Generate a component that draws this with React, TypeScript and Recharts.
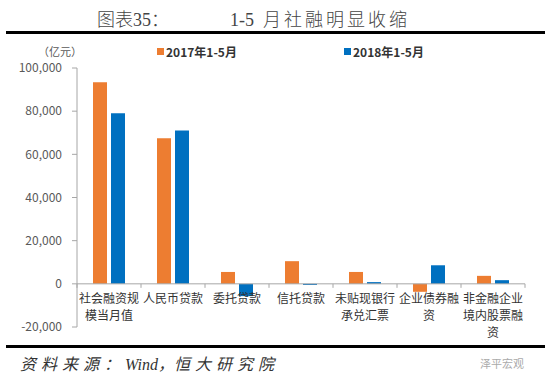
import React from 'react';
import { BarChart, Bar, XAxis, YAxis, ReferenceLine } from 'recharts';

const categories = [
    '社会融资规模当月值',
    '人民币贷款',
    '委托贷款',
    '信托贷款',
    '未贴现银行承兑汇票',
    '企业债券融资',
    '非金融企业境内股票融资',
];
const values2017 = [93400, 67400, 5500, 10500, 5500, -3700, 3700];
const values2018 = [79000, 71000, -5700, -500, 800, 8600, 1700];
const seriesNames = ['2017年1-5月', '2018年1-5月'];
const seriesColors = ['#ED7D31', '#0070C0'];
const yTicks = [-20000, 0, 20000, 40000, 60000, 80000, 100000];

const data = categories.map((name, i) => ({
    name,
    v2017: values2017[i],
    v2018: values2018[i],
}));

// plot geometry (used for the category labels, which hang under the zero line)
const W = 550;
const H = 385;
const TOP = 68;
const LEFT = 77;
const RIGHT = 25;
const X_AXIS_H = 58;
const plotH = H - TOP - X_AXIS_H;
const zeroY = TOP + (plotH * 100000) / 120000;
const halfBand = (W - LEFT - RIGHT) / categories.length / 2;

const FONT = "'Noto Sans CJK SC', 'Microsoft YaHei', sans-serif";
const SERIF = "'Liberation Serif', 'Noto Sans CJK SC', serif";

const CategoryTick = (props: any) => {
    const { x, index, payload } = props;
    const lines: string[] = String(payload.value).match(/.{1,5}/g) || [];
    return (
        <g>
            <line x1={x - halfBand} x2={x - halfBand} y1={zeroY} y2={zeroY + 4} stroke="#a6a6a6" />
            {index === categories.length - 1 && (
                <line x1={x + halfBand} x2={x + halfBand} y1={zeroY} y2={zeroY + 4} stroke="#a6a6a6" />
            )}
            <text x={x} y={zeroY} textAnchor="middle" fontSize={12} fill="#333" fontFamily={FONT}>
                {lines.map((l, i) => (
                    <tspan key={i} x={x} dy={i === 0 ? 19 : 17}>
                        {l}
                    </tspan>
                ))}
            </text>
        </g>
    );
};

export default function App() {
    return (
        <div
            style={{
                position: 'absolute',
                left: 0,
                top: 0,
                width: W,
                height: H,
                background: '#fff',
                fontFamily: FONT,
                overflow: 'hidden',
            }}
        >
            <div
                style={{
                    position: 'absolute',
                    left: 97,
                    top: 5,
                    fontSize: 18,
                    fontWeight: 300,
                    color: '#444',
                    fontFamily: SERIF,
                    whiteSpace: 'nowrap',
                }}
            >
                图表35：
            </div>
            <div
                style={{
                    position: 'absolute',
                    left: 230,
                    top: 5,
                    fontSize: 18,
                    fontWeight: 300,
                    color: '#444',
                    fontFamily: SERIF,
                    whiteSpace: 'pre',
                }}
            >
                {'1-5  '}
                <span style={{ letterSpacing: 3 }}>月社融明显收缩</span>
            </div>
            <div style={{ position: 'absolute', left: 6, top: 31, width: 539, height: 3, background: '#000' }} />

            <div style={{ position: 'absolute', left: 38, top: 43, fontSize: 11, color: '#595959' }}>（亿元）</div>

            {seriesNames.map((n, i) => (
                <div
                    key={n}
                    style={{
                        position: 'absolute',
                        left: i === 0 ? 157 : 344,
                        top: 43,
                        fontSize: 12,
                        fontWeight: 'bold',
                        color: '#333',
                        display: 'flex',
                        alignItems: 'center',
                        whiteSpace: 'nowrap',
                    }}
                >
                    <span style={{ display: 'inline-block', width: 7, height: 7, background: seriesColors[i], marginRight: 2 }} />
                    {n}
                </div>
            ))}

            <div style={{ position: 'absolute', left: 0, top: 0 }}>
                <BarChart
                    width={W}
                    height={H}
                    data={data}
                    margin={{ top: TOP, right: RIGHT, left: 0, bottom: 0 }}
                    barCategoryGap={16}
                    barGap={4}
                >
                    <XAxis
                        dataKey="name"
                        height={X_AXIS_H}
                        axisLine={false}
                        tickLine={false}
                        interval={0}
                        tick={<CategoryTick />}
                    />
                    <YAxis
                        width={LEFT}
                        domain={[-20000, 100000]}
                        ticks={yTicks}
                        tickFormatter={(v: number) => v.toLocaleString('en-US')}
                        axisLine={{ stroke: '#a6a6a6' }}
                        tickLine={{ stroke: '#a6a6a6' }}
                        tickSize={5}
                        tickMargin={10}
                        tick={{ fontSize: 12, fill: '#595959', fontFamily: FONT }}
                    />
                    <ReferenceLine y={0} stroke="#a6a6a6" />
                    <Bar dataKey="v2017" name={seriesNames[0]} fill={seriesColors[0]} isAnimationActive={false} />
                    <Bar dataKey="v2018" name={seriesNames[1]} fill={seriesColors[1]} isAnimationActive={false} />
                </BarChart>
            </div>

            <div style={{ position: 'absolute', left: 6, top: 345, width: 539, height: 3, background: '#000' }} />
            <div
                style={{
                    position: 'absolute',
                    left: 20,
                    top: 351,
                    fontSize: 16,
                    fontStyle: 'italic',
                    color: '#333',
                    whiteSpace: 'nowrap',
                    fontFamily: SERIF,
                }}
            >
                <span style={{ letterSpacing: 5 }}>资料来源：</span>Wind，<span style={{ letterSpacing: 5 }}>恒大研究院</span>
            </div>
            <div style={{ position: 'absolute', left: 480, top: 355, fontSize: 11, color: '#aaa', whiteSpace: 'nowrap' }}>
                泽平宏观
            </div>
        </div>
    );
}
